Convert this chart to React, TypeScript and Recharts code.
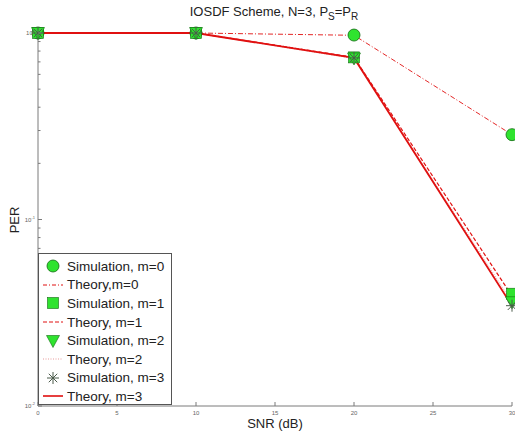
import { Legend, Line, LineChart, XAxis, YAxis } from "recharts";

// PER vs SNR
const snr = [0, 10, 20, 30];
const simM0 = [1, 1, 0.975, 0.285];
const theoryM0 = [1, 1, 0.972, 0.285];
const simM1 = [1, 1, 0.74, 0.04];
const theoryM1 = [1, 1, 0.74, 0.039];
const simM2 = [1, 1, 0.73, 0.036];
const theoryM2 = [1, 1, 0.73, 0.036];
const simM3 = [1, 1, 0.735, 0.0345];
const theoryM3 = [1, 1, 0.735, 0.0345];

const xTicks = [0, 5, 10, 15, 20, 25, 30];
const yTicks = [
  0.01, 0.02, 0.03, 0.04, 0.05, 0.06, 0.07, 0.08, 0.09,
  0.1, 0.2, 0.3, 0.4, 0.5, 0.6, 0.7, 0.8, 0.9, 1,
];
const yMajor = [0.01, 0.1, 1];
const yExp: Record<string, string> = { "0.01": "-2", "0.1": "-1", "1": "0" };

const legendItems = [
  { label: "Simulation, m=0", icon: "circle" },
  { label: "Theory,m=0", icon: "dashdot" },
  { label: "Simulation, m=1", icon: "square" },
  { label: "Theory, m=1", icon: "dashed" },
  { label: "Simulation, m=2", icon: "triangle" },
  { label: "Theory, m=2", icon: "dotted" },
  { label: "Simulation, m=3", icon: "star" },
  { label: "Theory, m=3", icon: "solid" },
];

const rows = snr.map((s, i) => ({
  snr: s,
  simM0: simM0[i],
  theoryM0: theoryM0[i],
  simM1: simM1[i],
  theoryM1: theoryM1[i],
  simM2: simM2[i],
  theoryM2: theoryM2[i],
  simM3: simM3[i],
  theoryM3: theoryM3[i],
}));

const GREEN = "#2fe32f";
const EDGE = "#136b13";
const RED = "#e01010";
const AXIS = "#7a7a7a";
const FONT = "'Liberation Sans', Arial, sans-serif";

function Marker({ kind, cx, cy }: { kind: string; cx: number; cy: number }) {
  if (kind === "circle")
    return <circle cx={cx} cy={cy} r={6} fill={GREEN} stroke={EDGE} strokeWidth={0.8} />;
  if (kind === "square")
    return <rect x={cx - 5.5} y={cy - 5.5} width={11} height={11} fill={GREEN} stroke={EDGE} strokeWidth={0.6} />;
  if (kind === "triangle")
    return (
      <polygon
        points={`${cx - 6.5},${cy - 5.5} ${cx + 6.5},${cy - 5.5} ${cx},${cy + 6.5}`}
        fill={GREEN}
        stroke={EDGE}
        strokeWidth={0.6}
      />
    );
  const r = 6;
  const d = r * 0.707;
  return (
    <g stroke="#4a5a4a" strokeWidth={1}>
      <line x1={cx - r} y1={cy} x2={cx + r} y2={cy} />
      <line x1={cx} y1={cy - r} x2={cx} y2={cy + r} />
      <line x1={cx - d} y1={cy - d} x2={cx + d} y2={cy + d} />
      <line x1={cx - d} y1={cy + d} x2={cx + d} y2={cy - d} />
    </g>
  );
}

const dotOf = (kind: string) => (p: any) =>
  p.cx == null ? <g key={p.index} /> : <g key={p.index}><Marker kind={kind} cx={p.cx} cy={p.cy} /></g>;

function BottomTick({ x, y, payload }: any) {
  return (
    <g>
      <line x1={x} y1={y} x2={x} y2={y - 4} stroke={AXIS} />
      <text x={x} y={y + 9} textAnchor="middle" fontSize={6} fill="#666" fontFamily={FONT}>
        {payload.value}
      </text>
    </g>
  );
}

function TopTick({ x, y }: any) {
  return <line x1={x} y1={y} x2={x} y2={y + 4} stroke={AXIS} />;
}

function LeftTick({ x, y, payload }: any) {
  const major = yMajor.includes(payload.value);
  return (
    <g>
      <line x1={x} y1={y} x2={x + (major ? 4 : 2.5)} y2={y} stroke={AXIS} />
      {major && (
        <text x={x - 3} y={y + 2} textAnchor="end" fontSize={6} fill="#666" fontFamily={FONT}>
          10
          <tspan dy={-3} fontSize={4}>
            {yExp[String(payload.value)]}
          </tspan>
        </text>
      )}
    </g>
  );
}

function RightTick({ x, y, payload }: any) {
  const major = yMajor.includes(payload.value);
  return <line x1={x} y1={y} x2={x - (major ? 4 : 2.5)} y2={y} stroke={AXIS} />;
}

function LegendIcon({ icon }: { icon: string }) {
  let body;
  if (icon === "circle" || icon === "square" || icon === "triangle" || icon === "star") {
    body = <Marker kind={icon} cx={10} cy={8} />;
  } else {
    const dash =
      icon === "dashdot" ? "4 2 1 2" : icon === "dashed" ? "4 2" : icon === "dotted" ? "1 1.5" : undefined;
    const color = icon === "dotted" ? "#e89a9a" : RED;
    const w = icon === "solid" ? 1.6 : 1;
    body = <line x1={0} y1={8} x2={20} y2={8} stroke={color} strokeWidth={w} strokeDasharray={dash} />;
  }
  return (
    <svg width={20} height={16} style={{ display: "block" }}>
      {body}
    </svg>
  );
}

function LegendBox() {
  return (
    <div
      style={{
        width: 134,
        height: 152,
        boxSizing: "border-box",
        border: "1px solid #555",
        background: "#fff",
        paddingTop: 3,
        fontFamily: FONT,
        fontSize: 13.5,
        color: "#222",
      }}
    >
      {legendItems.map((it) => (
        <div key={it.label} style={{ display: "flex", alignItems: "center", height: 18.6 }}>
          <div style={{ marginLeft: 4, width: 20 }}>
            <LegendIcon icon={it.icon} />
          </div>
          <span style={{ marginLeft: 4, whiteSpace: "nowrap" }}>{it.label}</span>
        </div>
      ))}
    </div>
  );
}

export default function App() {
  return (
    <div style={{ position: "absolute", left: 0, top: 0, width: 515, height: 431, background: "#fff" }}>
      <LineChart width={515} height={431} data={rows} margin={{ top: 33, right: 3, bottom: 0, left: 0 }}>
        <XAxis
          dataKey="snr"
          type="number"
          domain={[0, 30]}
          ticks={xTicks}
          interval={0}
          height={25}
          tickSize={0}
          tickMargin={0}
          stroke={AXIS}
          tick={BottomTick}
        />
        <XAxis
          xAxisId="top"
          orientation="top"
          dataKey="snr"
          type="number"
          domain={[0, 30]}
          ticks={xTicks}
          interval={0}
          height={0}
          tickSize={0}
          tickMargin={0}
          stroke={AXIS}
          tick={TopTick}
        />
        <YAxis
          scale="log"
          type="number"
          domain={[0.01, 1]}
          ticks={yTicks}
          interval={0}
          width={38}
          tickSize={0}
          tickMargin={0}
          stroke={AXIS}
          tick={LeftTick}
        />
        <YAxis
          yAxisId="right"
          orientation="right"
          scale="log"
          type="number"
          domain={[0.01, 1]}
          ticks={yTicks}
          interval={0}
          width={0}
          tickSize={0}
          tickMargin={0}
          stroke={AXIS}
          tick={RightTick}
        />
        <Line dataKey="simM0" stroke="none" dot={dotOf("circle")} activeDot={false} isAnimationActive={false} />
        <Line dataKey="theoryM0" stroke={RED} strokeWidth={0.9} strokeDasharray="5 2 1 2" dot={false} activeDot={false} isAnimationActive={false} />
        <Line dataKey="simM1" stroke="none" dot={dotOf("square")} activeDot={false} isAnimationActive={false} />
        <Line dataKey="theoryM1" stroke={RED} strokeWidth={1.2} strokeDasharray="4 2" dot={false} activeDot={false} isAnimationActive={false} />
        <Line dataKey="simM2" stroke="none" dot={dotOf("triangle")} activeDot={false} isAnimationActive={false} />
        <Line dataKey="theoryM2" stroke="#e89a9a" strokeWidth={1} strokeDasharray="1 1.5" dot={false} activeDot={false} isAnimationActive={false} />
        <Line dataKey="simM3" stroke="none" dot={dotOf("star")} activeDot={false} isAnimationActive={false} />
        <Line dataKey="theoryM3" stroke={RED} strokeWidth={1.8} dot={false} activeDot={false} isAnimationActive={false} />
        <Legend
          layout="horizontal"
          verticalAlign="middle"
          align="center"
          wrapperStyle={{ left: 38, top: 253, width: 134, height: 152 }}
          content={() => <LegendBox />}
        />
      </LineChart>
      <div
        style={{
          position: "absolute",
          left: 0,
          width: 548,
          top: 4,
          textAlign: "center",
          fontFamily: FONT,
          fontSize: 13,
          color: "#222",
          whiteSpace: "nowrap",
        }}
      >
        IOSDF Scheme, N=3, P<sub style={{ fontSize: 10 }}>S</sub>=P<sub style={{ fontSize: 10 }}>R</sub>
      </div>
      <div
        style={{
          position: "absolute",
          left: 0,
          width: 550,
          top: 416,
          lineHeight: "15px",
          textAlign: "center",
          fontFamily: FONT,
          fontSize: 13,
          color: "#222",
        }}
      >
        SNR (dB)
      </div>
      <div
        style={{
          position: "absolute",
          left: 14,
          top: 220,
          fontFamily: FONT,
          fontSize: 13,
          color: "#222",
          transform: "translate(-50%, -50%) rotate(-90deg)",
          whiteSpace: "nowrap",
        }}
      >
        PER
      </div>
    </div>
  );
}
